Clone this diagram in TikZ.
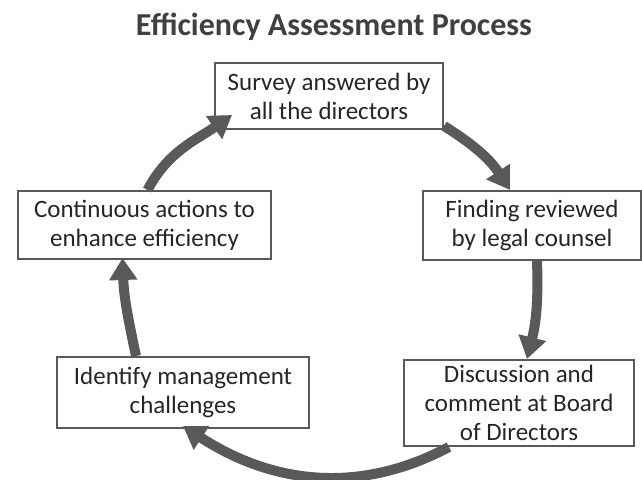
\documentclass[tikz,border=0pt]{standalone}
\usepackage{fontspec}
\setmainfont{Carlito}
\usetikzlibrary{arrows.meta}
\definecolor{arrowgray}{HTML}{595959}
\definecolor{textgray}{HTML}{404040}
\begin{document}
\begin{tikzpicture}[x=1pt, y=1pt,
  box/.style={draw=arrowgray, line width=2pt, fill=white, align=center, inner sep=0pt,
    font=\fontsize{25}{29}\selectfont, text=black!85},
  flow/.style={draw=arrowgray, line width=10pt,
    -{Triangle[width=27pt,length=22pt]}}]
  \useasboundingbox (0,0) rectangle (642,479);

  \node[font=\fontsize{32}{38}\selectfont\bfseries, text=textgray] (title) at (334,452) {Efficiency Assessment Process};

  \node[box, minimum width=228pt, minimum height=66pt] (survey) at (329,383) {Survey answered by\\all the directors};
  \node[box, minimum width=218pt, minimum height=69pt] (finding) at (532,253.5) {Finding reviewed\\by legal counsel};
  \node[box, minimum width=230pt, minimum height=86pt] (disc) at (519,76) {Discussion and\\comment at Board\\of Directors};
  \node[box, minimum width=252pt, minimum height=71pt] (ident) at (183,86.5) {Identify management\\challenges};
  \node[box, minimum width=253pt, minimum height=68pt] (cont) at (144.5,254) {Continuous actions to\\enhance efficiency};

  \coordinate (t1) at ([xshift=18pt,yshift=15pt]survey.south west);
  \coordinate (t2) at ([xshift=-22pt]finding.north);
  \coordinate (t3) at ([xshift=8pt]disc.north);
  \coordinate (t4) at ([yshift=3pt]ident.south);
  \coordinate (t5) at ([xshift=-22pt,yshift=2pt]cont.south);

  \draw[flow] ([xshift=3pt]cont.north) to[out=62, in=215] (t1);
  \draw[flow] ([yshift=4pt]survey.south east) to[out=-32, in=123] (t2);
  \draw[flow] ([xshift=5pt]finding.south) to[out=-88, in=76] (t3);
  \draw[flow] ([xshift=46pt]disc.south west) to[out=208, in=-33] (t4);
  \draw[flow] ([xshift=80pt]ident.north west) to[out=102, in=-88] (t5);
\end{tikzpicture}
\end{document}
